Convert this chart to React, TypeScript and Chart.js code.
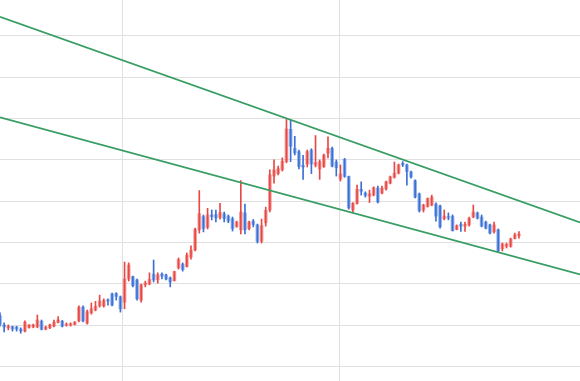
import React, { useEffect, useRef } from "react";
import { Chart, registerables } from "chart.js";

Chart.register(...registerables);

// OHLC values, one candle per trading day (index 0..125)
const opens = [
  12.3, 10.1, 9.4, 9.7, 9.6, 9.1, 8.6, 9.5, 9.6, 9.6,
  11.0, 9.1, 9.4, 9.8, 10.7, 11.0, 10.0, 10.1, 10.2, 11.1,
  14.4, 10.5, 13.0, 13.7, 14.7, 14.7, 16.1, 17.6, 17.7, 16.9,
  15.6, 21.2, 21.8, 21.0, 16.1, 19.8, 20.0, 22.4, 21.0, 22.4,
  22.2, 21.5, 20.8, 23.9, 24.8, 24.2, 26.5, 28.2, 33.1, 36.3,
  33.7, 36.7, 36.8, 36.1, 37.0, 36.4, 35.8, 33.9, 33.1, 37.2,
  33.4, 35.2, 34.3, 30.3, 34.8, 37.9, 46.1, 46.7, 47.6, 49.6,
  57.4, 52.8, 52.0, 48.7, 49.0, 52.4, 48.7, 47.8, 48.4, 51.6,
  52.8, 49.5, 45.4, 50.1, 46.0, 37.9, 39.5, 42.9, 42.0, 41.2,
  41.5, 43.2, 42.0, 43.0, 44.4, 45.8, 46.8, 49.2, 48.8, 47.1,
  45.0, 41.8, 37.9, 38.7, 39.1, 39.3, 38.9, 35.8, 36.3, 36.4,
  33.2, 34.4, 34.0, 34.3, 36.2, 37.2, 36.2, 35.0, 34.3, 32.6,
  33.1, 28.5, 29.1, 29.1, 31.0, 31.7,
];
const highs = [
  13.0, 10.6, 10.1, 9.8, 9.8, 9.4, 11.1, 10.2, 10.3, 12.5,
  11.3, 9.8, 10.3, 11.3, 12.1, 11.2, 10.6, 10.6, 10.9, 14.7,
  14.7, 13.7, 15.4, 15.8, 17.3, 16.4, 16.4, 17.8, 17.9, 17.1,
  25.3, 25.1, 21.9, 21.2, 20.0, 20.7, 22.7, 25.8, 22.7, 22.7,
  22.4, 21.7, 23.1, 26.3, 25.1, 27.5, 29.2, 33.5, 42.6, 36.7,
  38.3, 37.9, 37.9, 39.5, 37.4, 36.7, 36.2, 35.2, 45.0, 39.3,
  35.2, 35.6, 34.5, 35.7, 38.6, 47.6, 50.0, 48.5, 50.5, 59.8,
  59.7, 55.7, 52.4, 51.1, 52.4, 52.7, 55.9, 50.0, 51.4, 55.6,
  53.1, 50.0, 48.8, 50.4, 46.1, 39.7, 43.9, 44.7, 42.3, 42.7,
  43.5, 43.7, 43.7, 44.9, 46.1, 49.5, 49.0, 49.6, 49.0, 47.3,
  45.2, 42.0, 39.3, 40.8, 41.5, 39.6, 39.1, 37.9, 37.2, 36.7,
  34.3, 35.0, 35.0, 36.2, 39.1, 37.4, 36.7, 35.2, 34.5, 35.0,
  33.3, 29.9, 29.9, 31.1, 32.3, 32.7,
];
const lows = [
  9.8, 8.4, 8.9, 8.6, 8.6, 8.1, 8.4, 9.3, 9.4, 9.4,
  8.9, 8.9, 9.2, 9.6, 10.6, 9.6, 9.8, 9.8, 10.1, 10.8,
  10.8, 10.3, 12.7, 13.5, 14.4, 14.4, 14.9, 14.7, 16.1, 13.2,
  14.0, 20.7, 19.3, 16.1, 15.6, 19.3, 19.8, 20.5, 20.2, 21.2,
  21.0, 19.3, 20.7, 23.6, 23.1, 24.1, 26.0, 28.0, 32.3, 32.6,
  33.3, 35.5, 35.0, 35.7, 35.0, 34.8, 32.8, 33.7, 32.1, 32.1,
  33.1, 33.8, 29.9, 29.9, 34.0, 37.4, 44.4, 46.4, 47.3, 49.3,
  49.6, 51.2, 47.8, 45.3, 48.3, 46.7, 48.3, 45.3, 48.2, 50.5,
  48.3, 46.1, 44.9, 45.8, 38.1, 37.2, 39.3, 41.5, 41.0, 39.7,
  41.3, 39.6, 41.8, 42.7, 44.2, 45.6, 46.6, 48.4, 43.9, 45.6,
  40.8, 37.4, 37.4, 38.6, 38.9, 35.2, 33.5, 35.5, 35.5, 32.8,
  33.1, 32.7, 32.7, 34.0, 36.0, 35.7, 33.8, 33.3, 32.1, 32.3,
  27.7, 28.0, 28.7, 28.9, 30.9, 31.1,
];
const closes = [
  10.3, 9.6, 9.8, 9.1, 9.1, 8.6, 10.8, 10.1, 10.1, 11.3,
  9.0, 9.6, 10.1, 10.8, 11.3, 9.8, 10.3, 10.4, 10.8, 14.4,
  11.1, 13.3, 14.0, 14.6, 15.9, 16.0, 15.9, 14.9, 17.0, 14.0,
  21.2, 24.6, 19.6, 16.4, 19.8, 20.2, 21.1, 21.0, 22.2, 21.9,
  21.2, 20.5, 23.0, 25.9, 23.5, 27.0, 28.2, 33.2, 37.0, 33.4,
  36.7, 36.3, 36.0, 37.3, 35.8, 35.2, 33.4, 35.0, 37.4, 33.1,
  35.0, 34.4, 30.3, 34.1, 37.8, 46.4, 47.6, 47.9, 49.7, 57.5,
  53.3, 51.7, 48.4, 48.3, 52.0, 49.0, 49.4, 49.6, 51.2, 52.8,
  48.5, 48.1, 46.6, 46.0, 38.4, 39.5, 42.9, 42.4, 41.4, 41.8,
  43.3, 39.8, 43.2, 44.7, 45.9, 46.8, 48.8, 48.8, 47.2, 45.9,
  41.0, 37.7, 39.1, 40.7, 41.0, 36.4, 33.8, 36.4, 36.0, 32.9,
  34.1, 34.0, 34.4, 35.9, 37.4, 35.9, 34.0, 33.5, 32.3, 34.3,
  28.0, 29.7, 29.6, 30.9, 31.9, 32.1,
];

// Trend channel (start / end of the visible range)
const trendX = [0, 139.7];
const upperTrend = [84.6, 34.9];
const lowerTrend = [60.3, 22.3];

// Grid ticks
const priceTicks = [0, 10, 20, 30, 40, 50, 60, 70, 80];
const monthTicks = [29.5, 81.7];

const UP = "rgb(232,72,68)";
const UP_BODY = "rgba(236,80,76,0.55)";
const DOWN = "rgb(58,112,214)";
const DOWN_BODY = "rgba(62,116,216,0.55)";
const GREEN = "rgb(56,158,100)";
const GRID = "#e0e0e0";

export default function App() {
  const ref = useRef<HTMLCanvasElement>(null);

  useEffect(() => {
    document.body.style.margin = "0";
    const idx = opens.map((_, i) => i);
    const isUp = idx.map((i) => closes[i] >= opens[i]);

    const chart = new Chart(ref.current as HTMLCanvasElement, {
      type: "bar",
      data: {
        datasets: [
          {
            type: "line",
            data: trendX.map((x, i) => ({ x, y: upperTrend[i] })),
            borderColor: GREEN,
            borderWidth: 1.8,
            pointRadius: 0,
            order: 0,
          } as any,
          {
            type: "line",
            data: trendX.map((x, i) => ({ x, y: lowerTrend[i] })),
            borderColor: GREEN,
            borderWidth: 1.8,
            pointRadius: 0,
            order: 0,
          } as any,
          {
            type: "bar",
            data: idx.map((i) => ({ x: i, y: [lows[i], highs[i]] })),
            backgroundColor: idx.map((i) => (isUp[i] ? UP : DOWN)),
            barThickness: 1,
            grouped: false,
            order: 1,
          } as any,
          {
            type: "bar",
            data: idx.map((i) => ({ x: i, y: [opens[i], closes[i]] })),
            backgroundColor: idx.map((i) => (isUp[i] ? UP_BODY : DOWN_BODY)),
            barThickness: 3,
            minBarLength: 1,
            grouped: false,
            order: 2,
          } as any,
        ],
      },
      options: {
        responsive: false,
        animation: false,
        layout: { padding: 0 },
        plugins: { legend: { display: false }, tooltip: { enabled: false } },
        scales: {
          x: {
            type: "linear",
            min: 0,
            max: 139.7,
            offset: false,
            ticks: { display: false },
            border: { display: false },
            grid: { color: GRID, drawTicks: false, offset: false },
            afterBuildTicks: (s: any) => {
              s.ticks = monthTicks.map((v) => ({ value: v }));
            },
          },
          y: {
            type: "linear",
            min: -3.46,
            max: 88.68,
            ticks: { display: false },
            border: { display: false },
            grid: { color: GRID, drawTicks: false },
            afterBuildTicks: (s: any) => {
              s.ticks = priceTicks.map((v) => ({ value: v }));
            },
          },
        },
      },
    } as any);

    return () => chart.destroy();
  }, []);

  return (
    <div style={{ position: "fixed", left: 0, top: 0, width: 580, height: 381 }}>
      <canvas ref={ref} width={580} height={381} style={{ display: "block" }} />
    </div>
  );
}
